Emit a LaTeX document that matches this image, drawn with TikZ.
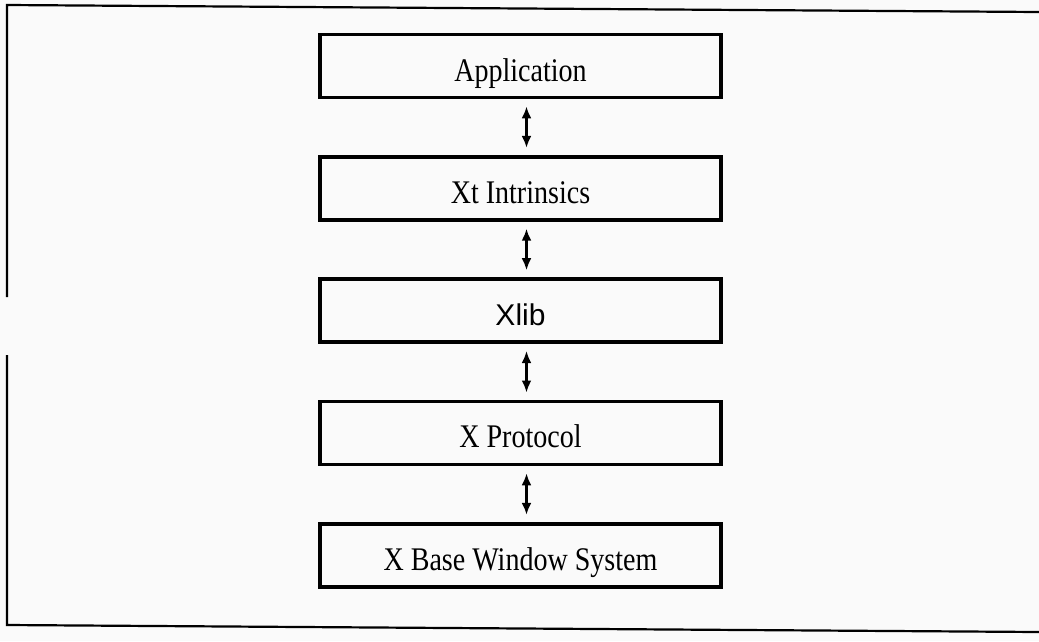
\documentclass[tikz,border=0pt]{standalone}
\usepackage{fontspec}
\setmainfont[FakeStretch=0.85]{Liberation Serif}
\newfontfamily\xlibfont{Liberation Sans}
\usetikzlibrary{arrows.meta,positioning}

\begin{document}
\begin{tikzpicture}[x=1pt,y=-1pt,font=\fontsize{33}{36}\selectfont,node distance=55.5pt,
  layer/.style={draw,line width=3.8pt,minimum width=401pt,minimum height=63pt,inner sep=0pt,text height=32pt,text depth=2pt},
  arr/.style={{Latex[length=12pt,width=10pt]}-{Latex[length=12pt,width=10pt]},line width=2.8pt,shorten <=7pt,shorten >=7pt},
  frame/.style={line width=2.2pt}]
\useasboundingbox[fill=gray!4] (0,0) rectangle (1039,641);
% page frame
\draw[frame] (1039,12) -- (7,5) -- (7,297);
\draw[frame] (7,355) -- (7,625) -- (1039,632);
% layer stack
\node[layer] (app) at (520.5,66) {Application};
\node[layer,below=of app] (xt) {Xt Intrinsics};
\node[layer,below=of xt] (xlib) {\xlibfont\fontsize{30}{32}\selectfont Xlib};
\node[layer,below=of xlib] (proto) {X Protocol};
\node[layer,below=of proto] (base) {X Base Window System};
\draw[arr] ([xshift=6pt]app.south) -- ([xshift=6pt]xt.north);
\draw[arr] ([xshift=6pt]xt.south) -- ([xshift=6pt]xlib.north);
\draw[arr] ([xshift=6pt]xlib.south) -- ([xshift=6pt]proto.north);
\draw[arr] ([xshift=6pt]proto.south) -- ([xshift=6pt]base.north);
\end{tikzpicture}
\end{document}
